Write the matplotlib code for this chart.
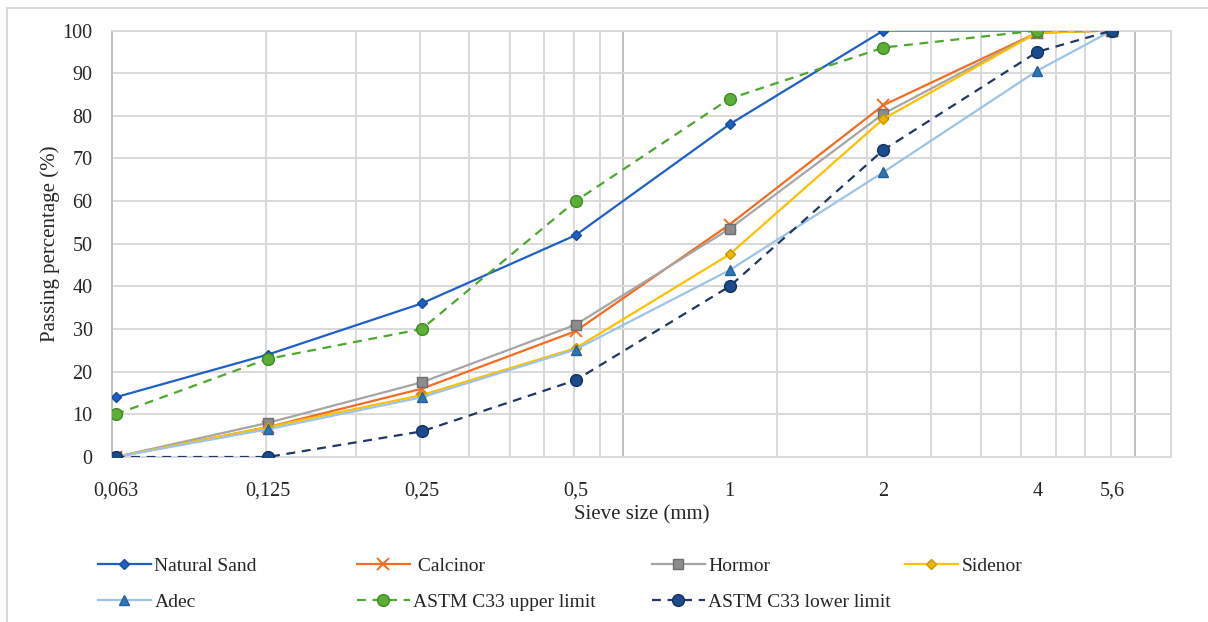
import numpy as np
import matplotlib
matplotlib.use("Agg")
import matplotlib.pyplot as plt
from matplotlib.lines import Line2D

plt.rcParams["font.family"] = ["Liberation Serif", "DejaVu Serif"]
plt.rcParams["font.size"] = 14

# Sieve sizes (mm) and tick labels
sieves = [0.063, 0.125, 0.25, 0.5, 1, 2, 4, 5.6]
sieve_labels = ["0,063", "0,125", "0,25", "0,5", "1", "2", "4", "5,6"]

# Passing percentage (%) per sand
natural_sand = [14, 24, 36, 52, 78, 100, 100, 100]
calcinor = [0, 7, 16, 29.5, 54.5, 82.5, 99.5, 100]
hormor = [0, 8, 17.5, 31, 53.5, 80.5, 99.5, 100]
sidenor = [0, 7, 14.5, 25.5, 47.5, 79.3, 99.5, 100]
adec = [0, 6.5, 14, 25.2, 43.8, 66.8, 90.6, 100]
astm_upper = [10, 23, 30, 60, 84, 96, 100, 100]
astm_lower = [0, 0, 6, 18, 40, 72, 95, 100]

W, H = 1208, 622
fig = plt.figure(figsize=(W / 100, H / 100), dpi=100)
ax = fig.add_axes([112 / W, 1 - 457 / H, (1171 - 112) / W, (457 - 30.5) / H])

# log axis starting at 0.062 with gridlines at every multiple of the start
x_min, x_max = 0.062, 7.3
ax.set_xscale("log")
ax.set_xlim(x_min, x_max)
ax.set_ylim(0, 100)
for dec in x_min * 10.0 ** np.arange(3):
    for k in range(1, 10):
        xv = dec * k
        if xv <= x_min or xv >= x_max:
            continue
        ax.axvline(xv, color="#BFBFBF" if k == 1 else "#D9D9D9",
                   lw=1.4, zorder=0)
for yv in range(10, 101, 10):
    ax.axhline(yv, color="#D9D9D9", lw=1.4, zorder=0)

ax.set_xticks(sieves)
ax.set_xticklabels(sieve_labels)
ax.xaxis.set_minor_locator(matplotlib.ticker.NullLocator())
ax.set_yticks(range(0, 101, 10))
ax.tick_params(axis="x", length=0, pad=18, labelsize=14.5, colors="#262626")
ax.tick_params(axis="y", length=0, pad=14, labelsize=14.5, colors="#262626")
for s in ax.spines.values():
    s.set_color("#D9D9D9")
    s.set_linewidth(1.4)
ax.spines["left"].set_color("#BFBFBF")

ax.set_xlabel("Sieve size (mm)", fontsize=15, labelpad=3, color="#262626")
ax.set_ylabel("Passing percentage (%)", fontsize=15, labelpad=2, color="#262626")

series = [
    ("Natural Sand", natural_sand, dict(color="#1F60C4", marker="D", ms=5.5,
                                        mfc="#1F60C4", mec="#174B9A", ls="-")),
    (" Calcinor", calcinor, dict(color="#F36C21", marker="x", ms=9, mew=1.4,
                                 mec="#F36C21", ls="-")),
    ("Hormor", hormor, dict(color="#A5A5A5", marker="s", ms=7,
                            mfc="#8C8C8C", mec="#6E6E6E", ls="-")),
    ("Sidenor", sidenor, dict(color="#FFC000", marker="D", ms=5.5,
                              mfc="#F0B400", mec="#C89600", ls="-")),
    ("Adec", adec, dict(color="#9DC3E6", marker="^", ms=7.5,
                        mfc="#2E75B6", mec="#25609A", ls="-")),
    ("ASTM C33 upper limit", astm_upper, dict(color="#4EA72E", marker="o", ms=8.5,
                                              mfc="#5DAE36", mec="#3E8A22",
                                              ls=(0, (4, 3)))),
    ("ASTM C33 lower limit", astm_lower, dict(color="#1F3864", marker="o", ms=8.5,
                                              mfc="#1D4A8C", mec="#14305E",
                                              ls=(0, (4, 3)))),
]

handles = {}
for i, (name, vals, st) in enumerate(series):
    h, = ax.plot(sieves, vals, lw=1.6, zorder=3 + i, label=name, **st)
    handles[name] = h

# legend laid out as four columns
columns = [["Natural Sand", "Adec"],
           [" Calcinor", "ASTM C33 upper limit"],
           ["Hormor", "ASTM C33 lower limit"],
           ["Sidenor"]]
col_x = [98, 357, 652, 905]
for names, cx in zip(columns, col_x):
    leg = fig.legend([handles[n] for n in names], names,
                     loc="upper left", bbox_to_anchor=(cx / W, 1 - 557 / H),
                     frameon=False, fontsize=14, handlelength=2.7,
                     handletextpad=0.2, labelspacing=0.95,
                     borderpad=0, borderaxespad=0)
    for t in leg.get_texts():
        t.set_color("#262626")

# outer chart border
fig.add_artist(Line2D([7 / W, 1], [1 - 8 / H, 1 - 8 / H], color="#D9D9D9", lw=1.5))
fig.add_artist(Line2D([7 / W, 7 / W], [0, 1 - 8 / H], color="#D9D9D9", lw=1.5))

fig.savefig("out.png", dpi=100)
